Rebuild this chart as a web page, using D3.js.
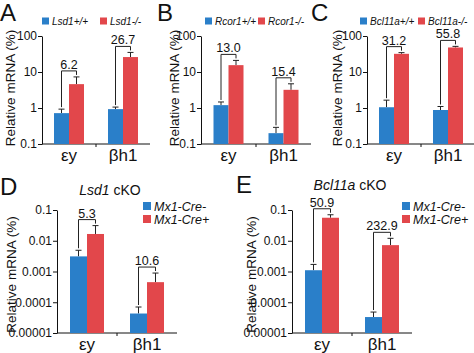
<!DOCTYPE html>
<html>
<head>
<meta charset="utf-8">
<script src="https://cdn.jsdelivr.net/npm/d3@7"></script>
<style>
  body { margin: 0; background: #fff; }
  svg { font-family: "Liberation Sans", Arial, sans-serif; }
</style>
</head>
<body>
<div class="chart"></div>
<script>
// categories
const genes = ["εy", "βh1"]

// panel A: Lsd1
const aLegend = ["Lsd1+/+", "Lsd1-/-"]
const aWt = [0.72, 0.93]
const aWtSd = [0.21, 0.13]
const aKo = [4.6, 26]
const aKoSd = [2.7, 9]
const aFold = ["6.2", "26.7"]

// panel B: Rcor1
const bLegend = ["Rcor1+/+", "Rcor1-/-"]
const bWt = [1.2, 0.2]
const bWtSd = [0.27, 0.09]
const bKo = [15.5, 3.2]
const bKoSd = [5.5, 1.5]
const bFold = ["13.0", "15.4"]

// panel C: Bcl11a
const cLegend = ["Bcl11a+/+", "Bcl11a-/-"]
const cWt = [1.05, 0.88]
const cWtSd = [0.6, 0.22]
const cKo = [32, 48]
const cKoSd = [2.5, 3.5]
const cFold = ["31.2", "55.8"]

// panel D: Lsd1 cKO
const dLegend = ["Mx1-Cre-", "Mx1-Cre+"]
const dWt = [0.0031, 0.000043]
const dWtSd = [0.0018, 0.000027]
const dKo = [0.0166, 0.00045]
const dKoSd = [0.0145, 0.00044]
const dFold = ["5.3", "10.6"]

// panel E: Bcl11a cKO
const eLegend = ["Mx1-Cre-", "Mx1-Cre+"]
const eWt = [0.0011, 0.000033]
const eWtSd = [0.0006, 0.000015]
const eKo = [0.056, 0.0072]
const eKoSd = [0.014, 0.0048]
const eFold = ["50.9", "232.9"]

// tick labels
const topTicks = [0.1, 1, 10, 100]
const bottomTicks = [0.00001, 0.0001, 0.001, 0.01, 0.1]

const blue = "#2a7fc9"
const red = "#e2474b"

const width = 474
const height = 353
const svg = d3.select(".chart").append("svg")
    .attr("width", width)
    .attr("height", height)
    .attr("viewBox", [0, 0, width, height])

function panel(p) {
    const g = svg.append("g")

    // scales
    const y = d3.scaleLog().domain(p.domain).range([p.yBottom, p.yTop])
    const x = d3.scaleBand().domain(genes).range([p.x0, p.x1])
    const xs = d3.scaleBand().domain([0, 1]).range([0, 2 * p.barW])
    const off = (x.bandwidth() - 2 * p.barW) / 2

    // y axis
    g.append("g")
        .attr("transform", `translate(${p.x0},0)`)
        .call(d3.axisLeft(y).tickValues(p.ticks).tickFormat(d => String(d)).tickSize(4).tickSizeOuter(0))
        .call(a => a.select(".domain").attr("stroke", "#111"))
        .call(a => a.selectAll(".tick line").attr("stroke", "#111"))
        .call(a => a.selectAll(".tick text")
            .attr("font-size", 12).attr("fill", "#111").attr("font-family", null).attr("dx", "2"))

    // x axis
    g.append("line")
        .attr("x1", p.x0).attr("x2", p.x1)
        .attr("y1", p.yBottom).attr("y2", p.yBottom)
        .attr("stroke", "#111")
    g.selectAll(".xtick")
        .data(genes.slice(1))
        .join("line")
        .attr("x1", d => x(d)).attr("x2", d => x(d))
        .attr("y1", p.yBottom).attr("y2", p.yBottom + 3)
        .attr("stroke", "#111")
    g.selectAll(".xlab")
        .data(genes)
        .join("text")
        .attr("x", d => x(d) + x.bandwidth() / 2)
        .attr("y", p.yBottom + 17)
        .attr("text-anchor", "middle")
        .attr("font-size", 17)
        .attr("fill", "#111")
        .text(d => d)

    // bars + error bars
    const series = [
        { vals: p.wt, sd: p.wtSd, color: blue, k: 0 },
        { vals: p.ko, sd: p.koSd, color: red, k: 1 }
    ]
    series.forEach(s => {
        const rows = genes.map((gene, i) => ({ gene, v: s.vals[i], hi: s.vals[i] + s.sd[i] }))
        const bx = d => x(d.gene) + off + xs(s.k)
        g.selectAll(null)
            .data(rows)
            .join("line")
            .attr("x1", d => bx(d) + xs.bandwidth() / 2)
            .attr("x2", d => bx(d) + xs.bandwidth() / 2)
            .attr("y1", d => y(d.v)).attr("y2", d => y(d.hi))
            .attr("stroke", "#222")
        g.selectAll(null)
            .data(rows)
            .join("line")
            .attr("x1", d => bx(d) + xs.bandwidth() / 2 - 3)
            .attr("x2", d => bx(d) + xs.bandwidth() / 2 + 3)
            .attr("y1", d => y(d.hi)).attr("y2", d => y(d.hi))
            .attr("stroke", "#222")
        g.selectAll(null)
            .data(rows)
            .join("rect")
            .attr("x", bx)
            .attr("width", xs.bandwidth())
            .attr("y", d => y(d.v))
            .attr("height", d => p.yBottom - y(d.v))
            .attr("fill", s.color)
    })

    // fold-change brackets
    genes.forEach((gene, i) => {
        const cx0 = x(gene) + off + xs(0) + xs.bandwidth() / 2
        const cx1 = x(gene) + off + xs(1) + xs.bandwidth() / 2
        const yl = y(p.wt[i] + p.wtSd[i]) - 2
        const yr = y(p.ko[i] + p.koSd[i]) - 2
        const top = Math.min(yl, yr) - 4
        g.append("path")
            .attr("d", d3.line()([[cx0, yl], [cx0, top], [cx1, top], [cx1, yr]]))
            .attr("fill", "none")
            .attr("stroke", "#222")
        g.append("text")
            .attr("x", (cx0 + cx1) / 2)
            .attr("y", top - 2)
            .attr("text-anchor", "middle")
            .attr("font-size", 12.5)
            .attr("fill", "#111")
            .text(p.fold[i])
    })

    // y label
    g.append("text")
        .attr("transform", `translate(${p.ylabX},${(p.yTop + p.yBottom) / 2 + p.ylabDy}) rotate(-90)`)
        .attr("text-anchor", "middle")
        .attr("font-size", 13.5)
        .attr("fill", "#111")
        .text("Relative mRNA (%)")

    // panel letter
    g.append("text")
        .attr("x", p.letterX).attr("y", p.letterY)
        .attr("font-size", 24)
        .attr("fill", "#111")
        .text(p.letter)

    // legend
    p.legend.forEach((name, k) => {
        const lx = p.legX[k], ly = p.legY[k]
        g.append("rect")
            .attr("x", lx).attr("y", ly - p.sq / 2)
            .attr("width", p.sq).attr("height", p.sq)
            .attr("fill", k ? red : blue)
        g.append("text")
            .attr("x", lx + p.sq + 3).attr("y", ly + p.legFont * 0.36)
            .attr("font-size", p.legFont)
            .attr("font-style", "italic")
            .attr("fill", "#111")
            .text(name)
    })

    // title
    if (p.title) {
        const t = g.append("text")
            .attr("x", p.titleX).attr("y", p.titleY)
            .attr("text-anchor", "middle")
            .attr("font-size", 14)
            .attr("fill", "#111")
        t.append("tspan").attr("font-style", "italic").text(p.title[0])
        t.append("tspan").text(p.title[1])
    }
}

const topPanel = { domain: [0.1, 100], ticks: topTicks, yTop: 36, yBottom: 144, barW: 15, legY: [21, 21], sq: 7, legFont: 10, letterY: 21, ylabDy: -2 }
const botPanel = { domain: [0.00001, 0.1], ticks: bottomTicks, yTop: 210, yBottom: 333, barW: 17, legY: [206, 219], sq: 8, legFont: 12.5, ylabDy: 3 }

panel({ ...topPanel, x0: 42, x1: 150, wt: aWt, wtSd: aWtSd, ko: aKo, koSd: aKoSd, fold: aFold,
    legend: aLegend, legX: [42, 100], ylabX: 15, letter: "A", letterX: 0 })
panel({ ...topPanel, x0: 201, x1: 311, wt: bWt, wtSd: bWtSd, ko: bKo, koSd: bKoSd, fold: bFold,
    legend: bLegend, legX: [205, 258], ylabX: 179, letter: "B", letterX: 157 })
panel({ ...topPanel, x0: 367, x1: 475, wt: cWt, wtSd: cWtSd, ko: cKo, koSd: cKoSd, fold: cFold,
    legend: cLegend, legX: [360, 418], ylabX: 342, letter: "C", letterX: 311 })
panel({ ...botPanel, x0: 57, x1: 177, wt: dWt, wtSd: dWtSd, ko: dKo, koSd: dKoSd, fold: dFold,
    legend: dLegend, legX: [143, 143], ylabX: 16, letter: "D", letterX: 0, letterY: 195,
    title: ["Lsd1", " cKO"], titleX: 110, titleY: 195 })
panel({ ...botPanel, x0: 292, x1: 412, wt: eWt, wtSd: eWtSd, ko: eKo, koSd: eKoSd, fold: eFold,
    legend: eLegend, legX: [402, 402], ylabX: 256, letter: "E", letterX: 236, letterY: 193,
    title: ["Bcl11a", " cKO"], titleX: 350, titleY: 190 })
</script>
</body>
</html>
